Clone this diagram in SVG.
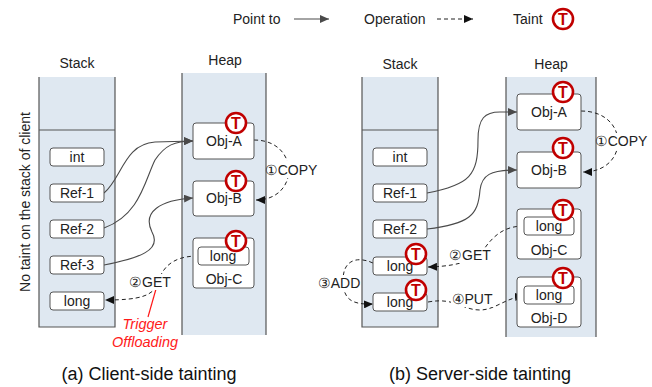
<svg xmlns="http://www.w3.org/2000/svg" width="652" height="387" viewBox="0 0 652 387">
<defs>
<style>
.col{fill:#dfe8f1}
.edge{stroke:#555;stroke-width:1.2;fill:none}
.box{fill:#fff;stroke:#555;stroke-width:1}
.lbl{font-family:'Liberation Sans',Arial,sans-serif;font-size:14px;fill:#222;text-anchor:middle}
.leg{font-family:'Liberation Sans',Arial,sans-serif;font-size:14px;fill:#222}
.cap{font-family:'Liberation Sans',Arial,sans-serif;font-size:18px;fill:#111;text-anchor:middle}
.ptr{stroke:#4a4a4a;stroke-width:1.1;fill:none;marker-end:url(#ah)}
.op{stroke:#222;stroke-width:1;stroke-dasharray:4 3;fill:none;marker-end:url(#ahk)}
.tc{fill:#fff;stroke:#c00000;stroke-width:2.6}
.tt{font-family:'Liberation Sans',Arial,sans-serif;font-weight:bold;font-size:16px;fill:#c00000;text-anchor:middle}
.red{font-family:'Liberation Sans',Arial,sans-serif;font-style:italic;font-size:14.5px;fill:#ff1a1a;text-anchor:middle}
.bg{fill:#fff}
</style>
<marker id="ah" markerWidth="9" markerHeight="8" refX="9" refY="4" orient="auto" markerUnits="userSpaceOnUse"><path d="M0,0 L9,4 L0,8 z" fill="#4a4a4a"/></marker>
<marker id="ahk" markerWidth="9" markerHeight="8" refX="9" refY="4" orient="auto" markerUnits="userSpaceOnUse"><path d="M0,0 L9,4 L0,8 z" fill="#111"/></marker>
<g id="taint"><circle class="tc" cx="0" cy="0" r="10"/><text class="tt" x="0" y="6">T</text></g>
</defs>
<rect width="652" height="387" fill="#fff"/>

<!-- legend -->
<g id="legend">
<text class="leg" x="233" y="24">Point to</text>
<line x1="294" y1="19" x2="329" y2="19" class="ptr"/>
<text class="leg" x="364" y="24">Operation</text>
<line x1="437" y1="19" x2="473" y2="19" class="op"/>
<text class="leg" x="513" y="24">Taint</text>
<use href="#taint" x="563" y="19"/>
</g>

<!-- columns left -->
<g id="a-stack-col">
<rect class="col" x="39" y="77" width="76" height="250"/>
<path class="edge" d="M39,77 V327 H115 V77 M39,130 H115"/>
<text class="lbl" x="77" y="68">Stack</text>
</g>
<g id="a-heap-col">
<rect class="col" x="182" y="73" width="84" height="262"/>
<path class="edge" d="M182,73 V335 M266,73 V335"/>
<text class="lbl" x="225" y="65">Heap</text>
</g>
<!-- columns right -->
<g id="b-stack-col">
<rect class="col" x="362" y="77" width="76" height="250"/>
<path class="edge" d="M362,77 V327 H438 V77 M362,130 H438"/>
<text class="lbl" x="400" y="69">Stack</text>
</g>
<g id="b-heap-col">
<rect class="col" x="506" y="77" width="90" height="260"/>
<path class="edge" d="M506,77 V337 M596,77 V337"/>
<text class="lbl" x="551" y="69">Heap</text>
</g>

<text class="leg" transform="translate(30,202) rotate(-90)" text-anchor="middle">No taint on the stack of client</text>

<!-- connectors -->
<g id="connectors">
<path class="ptr" d="M104,193 C122,178 124,144 155,142 L193,141"/>
<path class="ptr" d="M104,228 C140,215 145,180 155,160 C165,145 175,141 193,141"/>
<path class="ptr" d="M104,265 C140,258 162,250 152,232 C142,212 160,200 193,198"/>
<path class="op" d="M254,140 C300,140 300,200 256,200"/>
<path class="op" d="M198,256 C170,256 162,270 158,282 C154,296 140,300 105,300"/>
<line x1="156" y1="289" x2="148" y2="317" stroke="#ff1a1a" stroke-width="1.2"/>

<path class="ptr" d="M427,193 C470,185 478,175 478,140 C478,118 485,112 500,112 L517,112"/>
<path class="ptr" d="M427,229 C470,224 478,215 480,190 C482,175 490,170 517,170"/>
<path class="op" d="M581,111 C630,111 630,172 583,172"/>
<path class="op" d="M524,226 C505,226 495,235 487,245 C478,258 465,266 428,267"/>
<path class="op" d="M373,263 C355,255 343,262 343,280 C343,298 350,305 373,304"/>
<path class="op" d="M428,302 C455,297 462,310 480,310 C495,310 505,298 524,296"/>
</g>

<!-- operation labels -->
<g id="labels">
<rect class="bg" x="267" y="161" width="50" height="17"/>
<text class="lbl" x="291" y="175">①COPY</text>
<rect class="bg" x="129" y="274" width="43" height="16"/>
<text class="lbl" x="150" y="287">②GET</text>
<text class="red" x="145" y="329">Trigger</text>
<text class="red" x="145" y="347">Offloading</text>

<rect class="bg" x="597" y="133" width="50" height="17"/>
<text class="lbl" x="621" y="146">①COPY</text>
<rect class="bg" x="449" y="248" width="43" height="15"/>
<text class="lbl" x="470" y="260">②GET</text>
<rect class="bg" x="317" y="275" width="44" height="16"/>
<text class="lbl" x="339" y="288">③ADD</text>
<rect class="bg" x="451" y="292" width="43" height="15"/>
<text class="lbl" x="472" y="304">④PUT</text>
</g>

<!-- left stack nodes -->
<g id="a-int"><rect class="box" x="50" y="148" width="54" height="18" rx="3"/><text class="lbl" x="77" y="162">int</text></g>
<g id="a-ref1"><rect class="box" x="50" y="184" width="54" height="18" rx="3"/><text class="lbl" x="77" y="198">Ref-1</text></g>
<g id="a-ref2"><rect class="box" x="50" y="220" width="54" height="18" rx="3"/><text class="lbl" x="77" y="234">Ref-2</text></g>
<g id="a-ref3"><rect class="box" x="50" y="256" width="54" height="18" rx="3"/><text class="lbl" x="77" y="270">Ref-3</text></g>
<g id="a-long"><rect class="box" x="50" y="292" width="54" height="18" rx="3"/><text class="lbl" x="77" y="306">long</text></g>

<!-- left heap nodes -->
<g id="a-objA"><rect class="box" x="193" y="123" width="61" height="36" rx="3"/><text class="lbl" x="224" y="146">Obj-A</text><use href="#taint" x="236" y="123"/></g>
<g id="a-objB"><rect class="box" x="193" y="181" width="61" height="35" rx="3"/><text class="lbl" x="224" y="203">Obj-B</text><use href="#taint" x="236" y="181"/></g>
<g id="a-objC"><rect class="box" x="193" y="238" width="61" height="50" rx="3"/><rect class="box" x="198" y="247" width="51" height="18" rx="3"/><text class="lbl" x="223" y="261">long</text><text class="lbl" x="224" y="284">Obj-C</text><use href="#taint" x="236" y="241"/></g>

<!-- right stack nodes -->
<g id="b-int"><rect class="box" x="373" y="148" width="54" height="18" rx="3"/><text class="lbl" x="400" y="162">int</text></g>
<g id="b-ref1"><rect class="box" x="373" y="184" width="54" height="18" rx="3"/><text class="lbl" x="400" y="198">Ref-1</text></g>
<g id="b-ref2"><rect class="box" x="373" y="220" width="54" height="18" rx="3"/><text class="lbl" x="400" y="234">Ref-2</text></g>
<g id="b-long1"><rect class="box" x="373" y="257" width="54" height="18" rx="3"/><text class="lbl" x="400" y="271">long</text><use href="#taint" x="416" y="254"/></g>
<g id="b-long2"><rect class="box" x="373" y="293" width="54" height="18" rx="3"/><text class="lbl" x="400" y="307">long</text><use href="#taint" x="416" y="290"/></g>

<!-- right heap nodes -->
<g id="b-objA"><rect class="box" x="517" y="94" width="64" height="36" rx="3"/><text class="lbl" x="549" y="117">Obj-A</text><use href="#taint" x="563" y="92"/></g>
<g id="b-objB"><rect class="box" x="517" y="152" width="64" height="36" rx="3"/><text class="lbl" x="549" y="175">Obj-B</text><use href="#taint" x="563" y="148"/></g>
<g id="b-objC"><rect class="box" x="517" y="209" width="64" height="50" rx="3"/><rect class="box" x="524" y="217" width="50" height="18" rx="3"/><text class="lbl" x="549" y="231">long</text><text class="lbl" x="549" y="255">Obj-C</text><use href="#taint" x="563" y="210"/></g>
<g id="b-objD"><rect class="box" x="517" y="277" width="64" height="50" rx="3"/><rect class="box" x="524" y="286" width="50" height="18" rx="3"/><text class="lbl" x="549" y="300">long</text><text class="lbl" x="549" y="323">Obj-D</text><use href="#taint" x="563" y="278"/></g>

<!-- captions -->
<text class="cap" x="149" y="380">(a) Client-side tainting</text>
<text class="cap" x="480" y="380">(b) Server-side tainting</text>
</svg>
